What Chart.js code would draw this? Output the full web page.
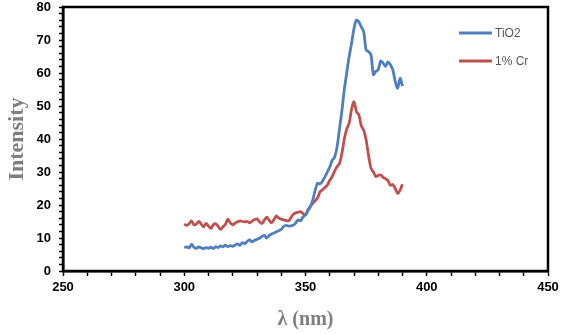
<!DOCTYPE html>
<html>
<head>
<meta charset="utf-8">
<script src="https://cdn.jsdelivr.net/npm/chart.js@4/dist/chart.umd.min.js"></script>
<style>
  html, body { margin: 0; padding: 0; background: #fff; }
  #wrap { width: 567px; height: 334px; }
</style>
</head>
<body>
<div id="wrap"><canvas id="pl"></canvas></div>
<script>
// wavelengths (nm), one reading per nm
const wavelengths = [];
for (let w = 300; w <= 390; w++) wavelengths.push(w);

// TiO2 intensity
const tio2 = [
  7.1, 7.3, 7.0, 8.1, 7.2, 6.9, 7.3, 7.0, 6.8, 7.1,
  6.9, 7.2, 6.8, 7.4, 7.1, 7.6, 7.3, 7.8, 7.4, 7.7,
  7.5, 7.9, 8.2, 7.8, 8.6, 8.3, 9.0, 9.4, 8.8, 9.3,
  9.6, 9.9, 10.4, 10.8, 10.0, 10.7, 11.2, 11.5, 11.9, 12.2,
  12.6, 13.5, 13.8, 13.6, 13.7, 13.9, 14.6, 15.5, 15.2, 16.4,
  17.0, 18.3, 19.5, 21.5, 24.5, 26.6, 26.4, 27.2, 28.5, 30.0,
  31.5, 33.5, 34.5, 37.5, 43.0, 48.5, 55.0, 60.0, 65.0, 69.0,
  73.5, 76.0, 75.5, 74.0, 72.5, 67.0, 66.5, 65.5, 59.5, 60.5,
  61.0, 63.6, 63.0, 62.0, 63.4, 62.5, 61.0, 57.5, 55.4, 58.4,
  56.0
];

// 1% Cr intensity
const cr1 = [
  14.2, 13.8, 14.3, 15.2, 14.0, 14.2, 15.0, 14.2, 13.4, 14.4,
  13.6, 12.9, 14.0, 14.3, 13.5, 12.6, 13.4, 14.2, 15.7, 14.6,
  14.0, 14.5, 14.9, 15.2, 15.0, 14.9, 15.0, 14.6, 15.1, 15.6,
  15.8, 14.9, 14.4, 15.4, 16.3, 15.4, 14.6, 15.6, 16.7, 16.0,
  15.7, 15.5, 15.3, 15.2, 16.2, 17.2, 17.6, 17.8, 18.0, 17.4,
  17.0, 18.6, 19.6, 20.5, 21.3, 22.2, 24.0, 24.6, 25.3, 26.0,
  27.5, 28.6, 30.3, 31.6, 32.6, 35.5, 40.0, 43.0, 44.8, 49.0,
  51.3, 48.3, 47.3, 44.0, 42.7, 39.7, 35.0, 31.2, 30.0, 28.6,
  29.0, 29.1, 28.4, 28.0, 27.4, 26.0, 26.2, 25.0, 23.5, 24.5,
  26.3
];

const seriesNames = ['TiO2', '1% Cr'];
const seriesColors = ['#4F7EC1', '#C0504D'];

const xTickLabels = [250, 300, 350, 400, 450];
const yTickLabels = [0, 10, 20, 30, 40, 50, 60, 70, 80];

function toPoints(vals) {
  return vals.map((v, i) => ({ x: wavelengths[i], y: v }));
}

// frame round the plot area
const framePlugin = {
  id: 'frame',
  afterDraw(chart) {
    const a = chart.chartArea, c = chart.ctx;
    c.save();
    c.strokeStyle = '#000';
    c.lineWidth = 2.5;
    c.strokeRect(a.left, a.top, a.right - a.left, a.bottom - a.top);
    c.restore();
  }
};

// legend inside the plot, top right
const legendPlugin = {
  id: 'innerLegend',
  afterDraw(chart) {
    const a = chart.chartArea, c = chart.ctx;
    c.save();
    chart.data.datasets.forEach((ds, i) => {
      const y = a.top + 26 + i * 28;
      const x0 = a.right - 89;
      c.strokeStyle = ds.borderColor;
      c.lineWidth = 3;
      c.beginPath();
      c.moveTo(x0, y);
      c.lineTo(x0 + 33, y);
      c.stroke();
      c.fillStyle = '#595959';
      c.font = '12px "Liberation Sans", Arial, sans-serif';
      c.textBaseline = 'middle';
      c.fillText(ds.label, x0 + 36, y + 1);
    });
    c.restore();
  }
};

const ctx = document.getElementById('pl').getContext('2d');
new Chart(ctx, {
  type: 'line',
  data: {
    datasets: [
      {
        label: seriesNames[0],
        data: toPoints(tio2),
        borderColor: seriesColors[0],
        borderWidth: 2.8,
        pointRadius: 0,
        tension: 0.3,
        fill: false
      },
      {
        label: seriesNames[1],
        data: toPoints(cr1),
        borderColor: seriesColors[1],
        borderWidth: 2.8,
        pointRadius: 0,
        tension: 0.3,
        fill: false
      }
    ]
  },
  options: {
    responsive: true,
    maintainAspectRatio: false,
    animation: false,
    layout: { padding: { top: 7, right: 19, left: 0, bottom: 0 } },
    plugins: {
      legend: { display: false },
      tooltip: { enabled: false }
    },
    scales: {
      x: {
        type: 'linear',
        min: 250,
        max: 450,
        afterBuildTicks(scale) {
          scale.ticks = [];
          for (let v = 250; v <= 450; v += 10) scale.ticks.push({ value: v });
        },
        afterFit(scale) { scale.height = 63; },
        grid: {
          drawOnChartArea: false,
          drawTicks: true,
          tickLength: 5,
          tickColor: '#000',
          tickWidth: 1.5
        },
        border: { color: '#000', width: 2.5 },
        ticks: {
          autoSkip: false,
          maxRotation: 0,
          color: '#000',
          padding: 4,
          font: { family: '"Liberation Sans", Arial, sans-serif', size: 13, weight: 'bold' },
          callback: v => xTickLabels.includes(v) ? String(v) : ''
        },
        title: {
          display: true,
          text: 'λ (nm)',
          color: '#7F7F7F',
          padding: { top: 0, bottom: 2 },
          font: { family: '"Liberation Serif", "Times New Roman", serif', size: 20, weight: 'bold' }
        }
      },
      y: {
        min: 0,
        max: 80,
        afterBuildTicks(scale) {
          scale.ticks = [];
          for (let v = 0; v <= 80; v += 2) scale.ticks.push({ value: v });
        },
        afterFit(scale) {
          scale.width = 63;
          scale.paddingTop = 0;
          scale.paddingBottom = 0;
        },
        grid: {
          drawOnChartArea: false,
          drawTicks: true,
          tickLength: 4,
          tickColor: '#000',
          tickWidth: 1.5
        },
        border: { color: '#000', width: 2.5 },
        ticks: {
          autoSkip: false,
          color: '#000',
          padding: 8,
          font: { family: '"Liberation Sans", Arial, sans-serif', size: 13, weight: 'bold' },
          callback: v => yTickLabels.includes(v) ? String(v) : ''
        },
        title: {
          display: true,
          text: 'Intensity',
          color: '#7F7F7F',
          padding: { top: 4, bottom: 0 },
          font: { family: '"Liberation Serif", "Times New Roman", serif', size: 22, weight: 'bold' }
        }
      }
    }
  },
  plugins: [framePlugin, legendPlugin]
});
</script>
</body>
</html>
